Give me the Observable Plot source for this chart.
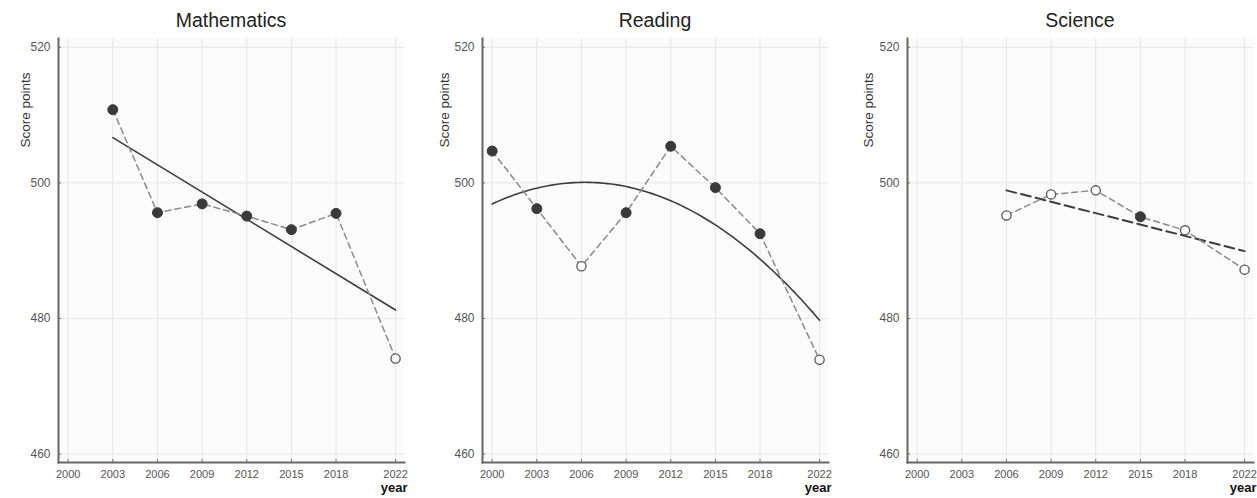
<!DOCTYPE html>
<html>
<head>
<meta charset="utf-8">
<script src="https://cdn.jsdelivr.net/npm/d3@7"></script>
<script src="https://cdn.jsdelivr.net/npm/@observablehq/plot@0.6"></script>
<style>
  html, body { margin: 0; padding: 0; background: #fff; }
  body { font-family: "Liberation Sans", Arial, Helvetica, sans-serif; }
  #row { display: flex; flex-wrap: nowrap; width: 1257px; height: 498px; overflow: hidden; }
  .panel { flex: none; }
  .title { box-sizing: border-box; height: 30px; padding-top: 10px; line-height: 20px; font-size: 19.5px; color: #222; text-align: center; }
  .panel svg { display: block; }
</style>
</head>
<body>
<div id="row"></div>
<script>
// ---- data ----
const tickYears = [2000, 2003, 2006, 2009, 2012, 2015, 2018, 2022];
const scoreTicks = [460, 480, 500, 520];
const subjects = ["Mathematics", "Reading", "Science"];
const trendTypes = ["linear", "quadratic", "linear"];

const mathYears = [2003, 2006, 2009, 2012, 2015, 2018, 2022];
const mathScores = [510.8, 495.6, 496.9, 495.1, 493.1, 495.5, 474.1];
const mathSignificant = [true, true, true, true, true, true, false];

const readingYears = [2000, 2003, 2006, 2009, 2012, 2015, 2018, 2022];
const readingScores = [504.7, 496.2, 487.7, 495.6, 505.4, 499.3, 492.5, 473.9];
const readingSignificant = [true, true, false, true, true, true, true, false];

const scienceYears = [2006, 2009, 2012, 2015, 2018, 2022];
const scienceScores = [495.2, 498.3, 498.9, 495.0, 493.0, 487.2];
const scienceSignificant = [false, false, false, true, false, false];

// ---- helpers ----
function toRows(years, scores, sig) {
  return years.map((year, i) => ({year, score: scores[i], sig: sig[i]}));
}

// least-squares quadratic fit of the observed scores (trend line)
function quadraticTrend(rows) {
  const x0 = rows[0].year;
  const S = [0, 0, 0, 0, 0], T = [0, 0, 0];
  for (const r of rows) {
    const u = r.year - x0;
    for (let k = 0; k < 5; k++) S[k] += u ** k;
    for (let k = 0; k < 3; k++) T[k] += r.score * u ** k;
  }
  const M = [[S[0], S[1], S[2]], [S[1], S[2], S[3]], [S[2], S[3], S[4]]];
  const det = m => m[0][0]*(m[1][1]*m[2][2]-m[1][2]*m[2][1]) - m[0][1]*(m[1][0]*m[2][2]-m[1][2]*m[2][0]) + m[0][2]*(m[1][0]*m[2][1]-m[1][1]*m[2][0]);
  const D = det(M);
  const coef = [0, 1, 2].map(j => det(M.map((row, i) => row.map((v, k) => k === j ? T[i] : v))) / D);
  const first = rows[0].year, last = rows[rows.length - 1].year;
  return d3.range(first, last + 1e-9, 0.25).map(year => {
    const u = year - x0;
    return {year, score: coef[0] + coef[1] * u + coef[2] * u * u};
  });
}

const panels = [
  {rows: toRows(mathYears, mathScores, mathSignificant), width: 424, labelDx: -38},
  {rows: toRows(readingYears, readingScores, readingSignificant), width: 425, labelDx: -43},
  {rows: toRows(scienceYears, scienceScores, scienceSignificant), width: 425, labelDx: -44}
];

const plotW = 346;
const marginLeft = 58;
const row = document.getElementById("row");

panels.forEach((p, i) => {
  const div = document.createElement("div");
  div.className = "panel";
  div.style.width = p.width + "px";

  const title = document.createElement("div");
  title.className = "title";
  title.style.marginLeft = marginLeft + "px";
  title.style.width = plotW + "px";
  title.textContent = subjects[i];
  div.appendChild(title);

  let trendMark;
  if (trendTypes[i] === "quadratic") {
    trendMark = Plot.line(quadraticTrend(p.rows), {x: "year", y: "score", stroke: "#3d3d3d", strokeWidth: 1.6, curve: "linear"});
  } else if (i === 0) {
    trendMark = Plot.linearRegressionY(p.rows, {x: "year", y: "score", ci: 0, stroke: "#3d3d3d", strokeWidth: 1.6});
  } else {
    trendMark = Plot.linearRegressionY(p.rows, {x: "year", y: "score", ci: 0, stroke: "#3d3d3d", strokeWidth: 2, strokeDasharray: "10,5"});
  }

  const svg = Plot.plot({
    width: p.width,
    height: 468,
    marginTop: 8,
    marginBottom: 36,
    marginLeft: marginLeft,
    marginRight: p.width - marginLeft - plotW,
    style: {fontFamily: "'Liberation Sans', Arial, Helvetica, sans-serif", background: "transparent", overflow: "visible"},
    x: {domain: [1999.35, 2022.6]},
    y: {domain: [458.75, 521.3]},
    marks: [
      Plot.frame({fill: "#fbfbfb", stroke: null}),
      Plot.gridX(tickYears, {stroke: "#e6e6e6", strokeOpacity: 1}),
      Plot.gridY(scoreTicks, {stroke: "#e6e6e6", strokeOpacity: 1}),
      // inward tick marks
      Plot.axisX(tickYears, {tickSize: 3, dy: -3, tickFormat: () => "", stroke: "#777", label: null}),
      Plot.axisY(scoreTicks, {tickSize: 3, dx: 3, tickFormat: () => "", stroke: "#777", label: null}),
      // tick labels
      Plot.axisX(tickYears, {tickSize: 0, tickPadding: 8, tickFormat: d => String(d), fontSize: 11, fill: "#555", label: null}),
      Plot.axisY(scoreTicks, {tickSize: 0, tickPadding: 8, tickFormat: d => String(d), fontSize: 12, fill: "#555", label: null}),
      Plot.frame({anchor: "left", stroke: "#666", strokeWidth: 2}),
      Plot.frame({anchor: "bottom", stroke: "#666", strokeWidth: 2}),
      Plot.text(["Score points"], {frameAnchor: "top-left", rotate: -90, textAnchor: "end", dx: p.labelDx, dy: 34, fontSize: 13.5, fill: "#333"}),
      Plot.text(["year"], {frameAnchor: "bottom-right", textAnchor: "end", dx: 3, dy: 29.5, fontSize: 13, fontWeight: "bold", fill: "#111"}),
      trendMark,
      Plot.line(p.rows, {x: "year", y: "score", stroke: "#8a8a8a", strokeWidth: 1.5, strokeDasharray: "6,4"}),
      Plot.dot(p.rows, {filter: d => d.sig, x: "year", y: "score", r: 5, fill: "#3a3a3a", stroke: "#3a3a3a", strokeWidth: 1}),
      Plot.dot(p.rows, {filter: d => !d.sig, x: "year", y: "score", r: 4.6, fill: "white", stroke: "#555", strokeWidth: 1.3})
    ]
  });
  div.appendChild(svg);
  row.appendChild(div);
});
</script>
</body>
</html>
